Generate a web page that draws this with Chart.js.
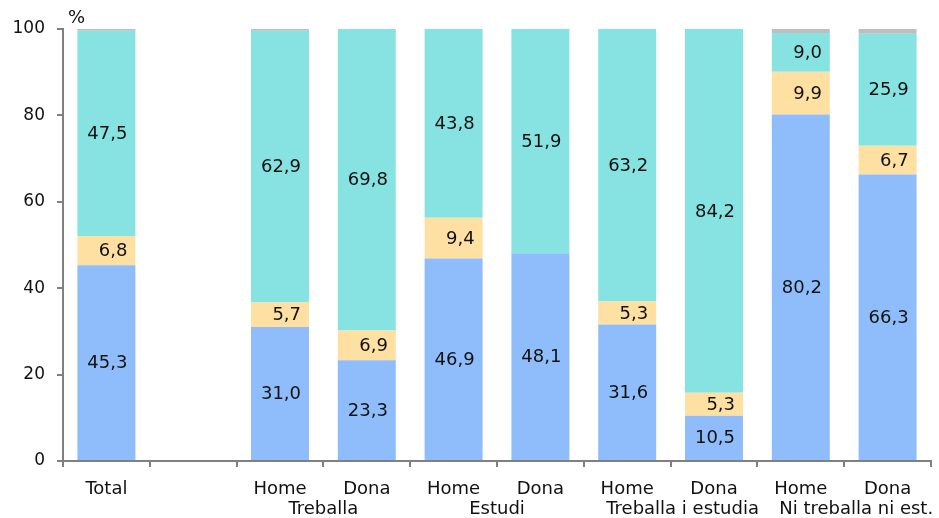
<!DOCTYPE html>
<html>
<head>
<meta charset="utf-8">
<script src="https://cdn.jsdelivr.net/npm/chart.js@4.4.1/dist/chart.umd.min.js"></script>
<style>
  html, body { margin: 0; padding: 0; background: #fff; }
  #wrap { width: 939px; height: 518px; position: relative; }
</style>
</head>
<body>
<div id="wrap"><canvas id="chart"></canvas></div>
<script>
const categories = ['Total', '', 'Home', 'Dona', 'Home', 'Dona', 'Home', 'Dona', 'Home', 'Dona'];
const groups = ['Treballa', 'Estudi', 'Treballa i estudia', 'Ni treballa ni est.'];
const blueValues   = [45.3, null, 31.0, 23.3, 46.9, 48.1, 31.6, 10.5, 80.2, 66.3];
const orangeValues = [6.8,  null, 5.7,  6.9,  9.4,  0,    5.3,  5.3,  9.9,  6.7];
const tealValues   = [47.5, null, 62.9, 69.8, 43.8, 51.9, 63.2, 84.2, 9.0,  25.9];
const greyValues   = [0.4,  null, 0.4,  0,    0,    0,    0,    0,    0.9,  1.1];
const yTicks = [0, 20, 40, 60, 80, 100];

const FONT = 'DejaVu Sans';
const axisColor = '#808080';

// value labels inside the coloured segments (not on the grey one)
const segmentLabels = {
    id: 'segmentLabels',
    afterDatasetsDraw(chart) {
        const ctx = chart.ctx;
        ctx.save();
        ctx.font = '18px "' + FONT + '"';
        ctx.fillStyle = '#111';
        ctx.textBaseline = 'middle';
        ctx.textAlign = 'right';
        const half = ctx.measureText('00,0').width / 2;
        [0, 1, 2].forEach(function(di) {
            const meta = chart.getDatasetMeta(di);
            meta.data.forEach(function(bar, i) {
                const v = chart.data.datasets[di].data[i];
                if (!v) return;
                const y = (bar.y + bar.base) / 2;
                ctx.fillText(v.toFixed(1).replace('.', ','), bar.x + half + 1, y + 1);
            });
        });
        ctx.restore();
    }
};

// second row of x labels under each Home/Dona pair, plus the % unit
const extraText = {
    id: 'extraText',
    afterDraw(chart) {
        const ctx = chart.ctx;
        const x = chart.scales.x;
        ctx.save();
        ctx.font = '18px "' + FONT + '"';
        ctx.fillStyle = '#111';
        ctx.textAlign = 'center';
        ctx.textBaseline = 'middle';
        groups.forEach(function(g, k) {
            const a = x.getPixelForValue(2 + k * 2);
            const b = x.getPixelForValue(3 + k * 2);
            let cx = (a + b) / 2;
            // keep the long names from running into each other
            const w = ctx.measureText(g).width;
            if (w > b - a) cx += Math.min(12, chart.width - 2 - (cx + w / 2));
            ctx.fillText(g, cx, 509);
        });
        ctx.textAlign = 'left';
        ctx.fillText('%', chart.chartArea.left + 5, 18);
        ctx.restore();
    }
};

function dataset(label, data, color) {
    return {
        label: label,
        data: data,
        backgroundColor: color,
        borderWidth: 0,
        categoryPercentage: 1,
        barPercentage: 0.668
    };
}

new Chart(document.getElementById('chart'), {
    type: 'bar',
    data: {
        labels: categories,
        datasets: [
            dataset('blue', blueValues, '#8fbdfb'),
            dataset('orange', orangeValues, '#ffe0a3'),
            dataset('teal', tealValues, '#86e3e1'),
            dataset('grey', greyValues, '#bebebe')
        ]
    },
    options: {
        responsive: true,
        maintainAspectRatio: false,
        animation: false,
        layout: { padding: { top: 29, right: 8, left: 0, bottom: 0 } },
        plugins: {
            legend: { display: false },
            tooltip: { enabled: false }
        },
        scales: {
            x: {
                stacked: true,
                grid: {
                    offset: true,
                    drawOnChartArea: false,
                    drawTicks: true,
                    tickLength: 6,
                    color: axisColor,
                    lineWidth: 2
                },
                border: { color: axisColor, width: 2 },
                ticks: {
                    color: '#111',
                    font: { family: FONT, size: 18 },
                    padding: 12,
                    maxRotation: 0,
                    autoSkip: false
                },
                afterFit(scale) { scale.height = 57; }
            },
            y: {
                stacked: true,
                min: 0,
                max: 100,
                afterBuildTicks(scale) {
                    scale.ticks = yTicks.map(function(v) { return { value: v }; });
                },
                grid: {
                    drawOnChartArea: false,
                    drawTicks: true,
                    tickLength: 6,
                    color: axisColor,
                    lineWidth: 2
                },
                border: { color: axisColor, width: 2 },
                ticks: {
                    color: '#111',
                    font: { family: FONT, size: 17 },
                    padding: 12
                },
                afterFit(scale) { scale.width = 63; }
            }
        }
    },
    plugins: [segmentLabels, extraText]
});
</script>
</body>
</html>
